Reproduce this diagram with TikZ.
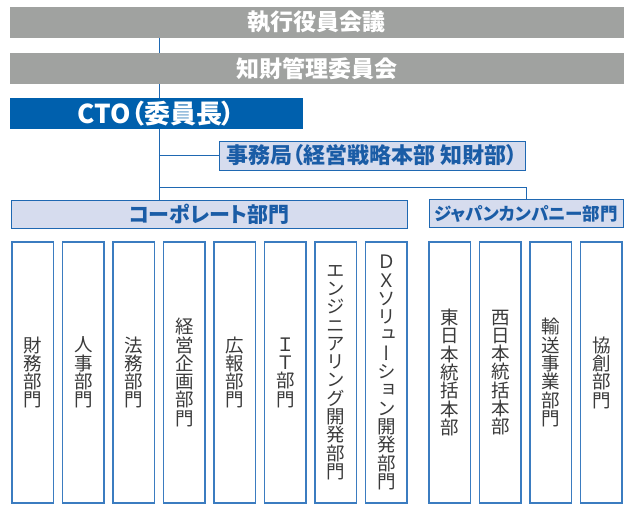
\documentclass[tikz,border=0pt]{standalone}
\usepackage{fontspec}
\setmainfont{Noto Sans CJK JP}
\newfontfamily\hjp[RawFeature=+palt]{Noto Sans CJK JP}
\newfontfamily\vjp[RawFeature=+vert]{Noto Sans CJK JP}
\definecolor{barGray}{HTML}{A0A2A0}
\definecolor{ctoBlue}{HTML}{0060AD}
\definecolor{lineBlue}{HTML}{1F68B2}
\definecolor{boxFill}{HTML}{D6DCEE}
\definecolor{txtBlue}{HTML}{1A5CA6}
\definecolor{vtxt}{HTML}{3A3A3A}
\definecolor{boxLine}{HTML}{3B7CC0}
\tikzset{
  every node/.style={inner sep=0pt, outer sep=0pt},
  graybar/.style={fill=barGray, minimum width=613.7pt, minimum height=30.5pt,
    text=white, font=\hjp\fontsize{23}{24}\selectfont\bfseries},
  ctobox/.style={fill=ctoBlue, minimum width=293pt, minimum height=31pt,
    text=white, font=\hjp\fontsize{26}{27}\selectfont\bfseries},
  lightbox/.style={fill=boxFill, draw=lineBlue, line width=0.9pt, text=txtBlue,
    font=\hjp\fontsize{22}{23}\selectfont\bfseries},
  unitbox/.style={draw=boxLine, line width=1.1pt, minimum width=41.5pt, minimum height=261pt,
    text=vtxt, align=center, font=\vjp\fontsize{18.5}{18.3}\selectfont},
  conn/.style={draw=lineBlue, line width=1pt},
}
\begin{document}
\begin{tikzpicture}[x=1pt,y=-1pt]
\useasboundingbox (0,0) rectangle (628,504);
\node[graybar] (exec) at (316.85,22.3) {執行役員会議};
\node[graybar] (ipc) at (316.85,68.5) {知財管理委員会};
\node[ctobox] (cto) at (156.5,113.5) {CTO（委員長）};
\node[lightbox, minimum width=306pt, minimum height=29pt] (jimu) at (372,155.5) {事務局（経営戦略本部 知財部）};
\node[lightbox, minimum width=396pt, minimum height=28pt, font=\hjp\fontsize{21}{22}\selectfont\bfseries] (corp) at (209,214) {コーポレート部門};
\node[lightbox, minimum width=194pt, minimum height=28pt, font=\hjp\fontsize{17.5}{18}\selectfont\bfseries] (japan) at (526,213.5) {ジャパンカンパニー部門};

\coordinate (t0) at (159,37.6);
\coordinate (t1) at (159,53.2);
\coordinate (t2) at (159,83.8);
\coordinate (t3) at (159,98);
\coordinate (t4) at (159,129);
\coordinate (t5) at (159,200);
\coordinate (bj) at (159,155.5);
\coordinate (bh) at (159,187);
\coordinate (bk) at (526,187);

\draw[conn] (t0) -- (t1);
\draw[conn] (t2) -- (t3);
\draw[conn] (t4) -- (t5);
\draw[conn] (bj) -- (jimu.west);
\draw[conn] (bh) -- (bk) -- (japan.north);

\node[unitbox] (u1) at (32.75,372.5) {財\\務\\部\\門};
\node[unitbox] (u2) at (83.25,372.5) {人\\事\\部\\門};
\node[unitbox] (u3) at (133.75,372.5) {法\\務\\部\\門};
\node[unitbox] (u4) at (184.25,372.5) {経\\営\\企\\画\\部\\門};
\node[unitbox] (u5) at (234.75,372.5) {広\\報\\部\\門};
\node[unitbox] (u6) at (285.25,372.5) {Ｉ\\Ｔ\\部\\門};
\node[unitbox] (u7) at (335.75,372.5) {エ\\ン\\ジ\\ニ\\ア\\リ\\ン\\グ\\開\\発\\部\\門};
\node[unitbox] (u8) at (386.25,372.5) {Ｄ\\Ｘ\\ソ\\リ\\ュ\\ー\\シ\\ョ\\ン\\開\\発\\部\\門};
\node[unitbox] (u9) at (449.75,372.5) {東\\日\\本\\統\\括\\本\\部};
\node[unitbox] (u10) at (500.25,372.5) {西\\日\\本\\統\\括\\本\\部};
\node[unitbox] (u11) at (550.75,372.5) {輸\\送\\事\\業\\部\\門};
\node[unitbox] (u12) at (601.25,372.5) {協\\創\\部\\門};
\end{tikzpicture}
\end{document}
